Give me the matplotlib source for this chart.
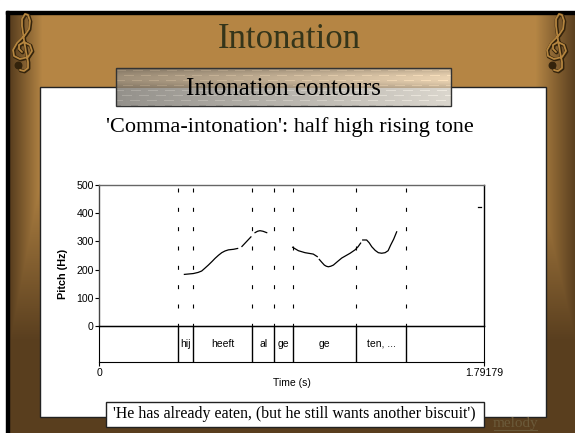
import matplotlib
matplotlib.use('Agg')
import matplotlib.pyplot as plt
import numpy as np
from matplotlib.patches import Rectangle

# segment boundaries (s) and labels from the annotation tier
boundaries = [0.368, 0.4375, 0.711, 0.815, 0.9005, 1.194, 1.430]
words = ['hij', 'heeft', 'al', 'ge', 'ge', 'ten, ...']

# pitch track, one pair of lists per voiced stretch
seg_t = [
    [0.396, 0.4375, 0.46, 0.4765, 0.49, 0.5075, 0.525, 0.539, 0.555, 0.570, 0.585, 0.601, 0.625, 0.644],
    [0.664, 0.706],
    [0.725, 0.737, 0.748, 0.762, 0.7795],
    [0.9005, 0.927, 0.958, 0.9965, 1.015],
    [1.0245, 1.036, 1.048, 1.057, 1.0665, 1.078, 1.09, 1.11, 1.129, 1.168, 1.191, 1.205, 1.217],
    [1.2267, 1.245, 1.257, 1.269, 1.285, 1.2995, 1.315, 1.331, 1.345, 1.357, 1.371, 1.385],
    [1.7625, 1.7765],
]
seg_hz = [
    [183, 186, 190, 195, 204, 216, 229, 240, 251, 260, 266, 270, 272, 275],
    [282, 316],
    [331, 336, 338, 336, 331],
    [279, 267, 260, 255, 246],
    [236, 226, 216, 212, 210, 212, 216, 229, 241, 258, 270, 281, 294],
    [305, 305, 295, 281, 268, 260, 258, 260, 267, 287, 308, 334],
    [423, 423],
]
y_ticks = [0, 100, 200, 300, 400, 500]
t_max = 1.79179

# treble clef outline in pixels around its centre, no installed font has the glyph
clef_x = [-5, -3, 1, 5, 5, 3, 1, -1, -1, 2, 5, 7, 6, 2, -6, -10, -9, -3, 5, 9, 7, 1, -4, -4, -1]
clef_y = [65, 70, 71, 68, 62, 52, 40, 26, 19, 14, 15, 21, 29, 35, 43, 50, 56, 59, 57, 51, 45, 42, 45, 49, 52]

W, H = 575, 433
plt.rcParams['font.family'] = 'Liberation Serif'
fig = plt.figure(figsize=(W / 100, H / 100), dpi=100)

# slide background, whole figure in pixel coordinates
bg = fig.add_axes([0, 0, 1, 1])

tan = np.array([0.71, 0.525, 0.27])
dark = np.array([0.35, 0.245, 0.12])
xx, yy = np.meshgrid(np.arange(W), np.arange(H))
side = np.clip(np.maximum((42 - xx) / 32, (xx - 535) / 40), 0, 1)
low = np.clip((yy - 170) / 170, 0, 1)
mix = np.maximum(side, low)[..., None]
grad = tan * (1 - mix) + dark * mix
bg.imshow(grad, extent=[0, W, H, 0], aspect='auto', zorder=0)
bg.add_patch(Rectangle((0, 0), W, 11, color='white', zorder=1))
bg.add_patch(Rectangle((0, 0), 6, H, color='white', zorder=1))
bg.add_patch(Rectangle((6, 11), W, 2.5, color='black', zorder=1))
bg.add_patch(Rectangle((6, 11), 3, H, color='black', zorder=1))
bg.add_patch(Rectangle((39.5, 87), 506.5, 330, fc='white', ec='#222222', lw=1, zorder=2))

# subtitle banner with a woven texture of light dashes, brown above and grey below
bw, bh = 335, 38
sx, sy = np.meshgrid(np.arange(bw), np.arange(bh))
tone = 0.58 + 0.28 * sx / bw
shade = np.where(sy < 20, 0.85 + 0.22 * np.sin(np.pi * sy / 20), 1.0)
dash = ((sy % 5 == 2) & ((sx + 9 * (sy // 5)) % 17 < 10)) * 0.08
tint = np.where((sy < 20)[..., None], np.array([1.0, 0.9, 0.76]), np.array([1.0, 0.98, 0.94]))
banner = (tone * shade + dash)[..., None] * tint
bg.imshow(np.clip(banner, 0, 1), extent=[115.5, 450.5, 106, 68], aspect='auto', zorder=3)
bg.add_patch(Rectangle((115.5, 68), bw, bh, fc='none', ec='#333333', lw=1, zorder=4))

bg.text(289, 40, 'Intonation', fontsize=25, color='#35351a', ha='center', va='center', zorder=5)
bg.text(283, 89, 'Intonation contours', fontsize=18, color='black', ha='center', va='center', zorder=5)
bg.text(290, 127, "'Comma-intonation': half high rising tone", fontsize=16, color='black', ha='center', va='center', zorder=5)

# footer link and caption
bg.text(515, 424, 'melody', fontsize=11, color='#6b5a3a', ha='center', va='center', zorder=2)
bg.plot([494, 537], [430, 430], color='#6b5a3a', lw=0.8, zorder=2)
bg.add_patch(Rectangle((105.7, 401.7), 378, 25.3, fc='white', ec='#222222', lw=1, zorder=5))
bg.text(294, 414, "'He has already eaten, (but he still wants another biscuit')", fontsize=11.4, color='black',
        ha='center', va='center', zorder=6)

# clefs in the top corners
for cx in [23, 557]:
    px = np.array(clef_x) + cx
    py = np.array(clef_y)
    bg.plot(px + 0.6, py + 0.6, color='#33230c', lw=2.6, zorder=5, solid_capstyle='round')
    bg.plot(px, py, color='#b5853f', lw=1.3, zorder=6, solid_capstyle='round')
    bg.scatter(px[0], py[0], s=22, color='#33230c', zorder=6)
bg.set_xlim(0, W)
bg.set_ylim(H, 0)
bg.axis('off')

# pitch axes
left, right, top, zero, bot = 99.4, 484, 185, 326, 362.3
ax = fig.add_axes([left / W, 1 - zero / H, (right - left) / W, (zero - top) / H])
ax.set_xlim(0, t_max)
ax.set_ylim(0, 500)
ax.patch.set_alpha(0)
for t in boundaries:
    ax.plot([t, t], [489, 0], color='black', lw=0.8, dashes=(3.6, 13.8), zorder=1)
for t, hz in zip(seg_t, seg_hz):
    ax.plot(t, hz, color='black', lw=0.9)
ax.set_xticks([])
ax.set_yticks(y_ticks)
ax.tick_params(axis='y', labelsize=7.6, length=3, width=0.8, pad=1, labelfontfamily='Liberation Sans')
ax.set_ylabel('Pitch (Hz)', fontsize=7.8, family='Liberation Sans', fontweight='bold')
ax.yaxis.set_label_coords(-0.081, 0.369)
for s in ax.spines.values():
    s.set_linewidth(1)
ax.spines['top'].set_color('#666666')
ax.spines['left'].set_color('#444444')

# annotation tier
tier = fig.add_axes([left / W, 1 - bot / H, (right - left) / W, (bot - zero) / H])
tier.set_xlim(0, t_max)
tier.set_ylim(0, 1)
tier.patch.set_alpha(0)
tier.set_yticks([])
tier.set_xticks([0, t_max])
tier.set_xticklabels(['0', '1.79179'], fontsize=7.6, family='Liberation Sans')
tier.tick_params(axis='x', length=3, width=0.8, pad=1)
tier.set_xlabel('Time (s)', fontsize=7.5, family='Liberation Sans', labelpad=0)
for t in boundaries:
    tier.axvline(t, color='black', lw=1)
for a, b, w in zip(boundaries[:-1], boundaries[1:], words):
    tier.text((a + b) / 2, 0.5, w, fontsize=7.5, family='Liberation Sans', ha='center', va='center')

fig.savefig('out.png', dpi=100)
